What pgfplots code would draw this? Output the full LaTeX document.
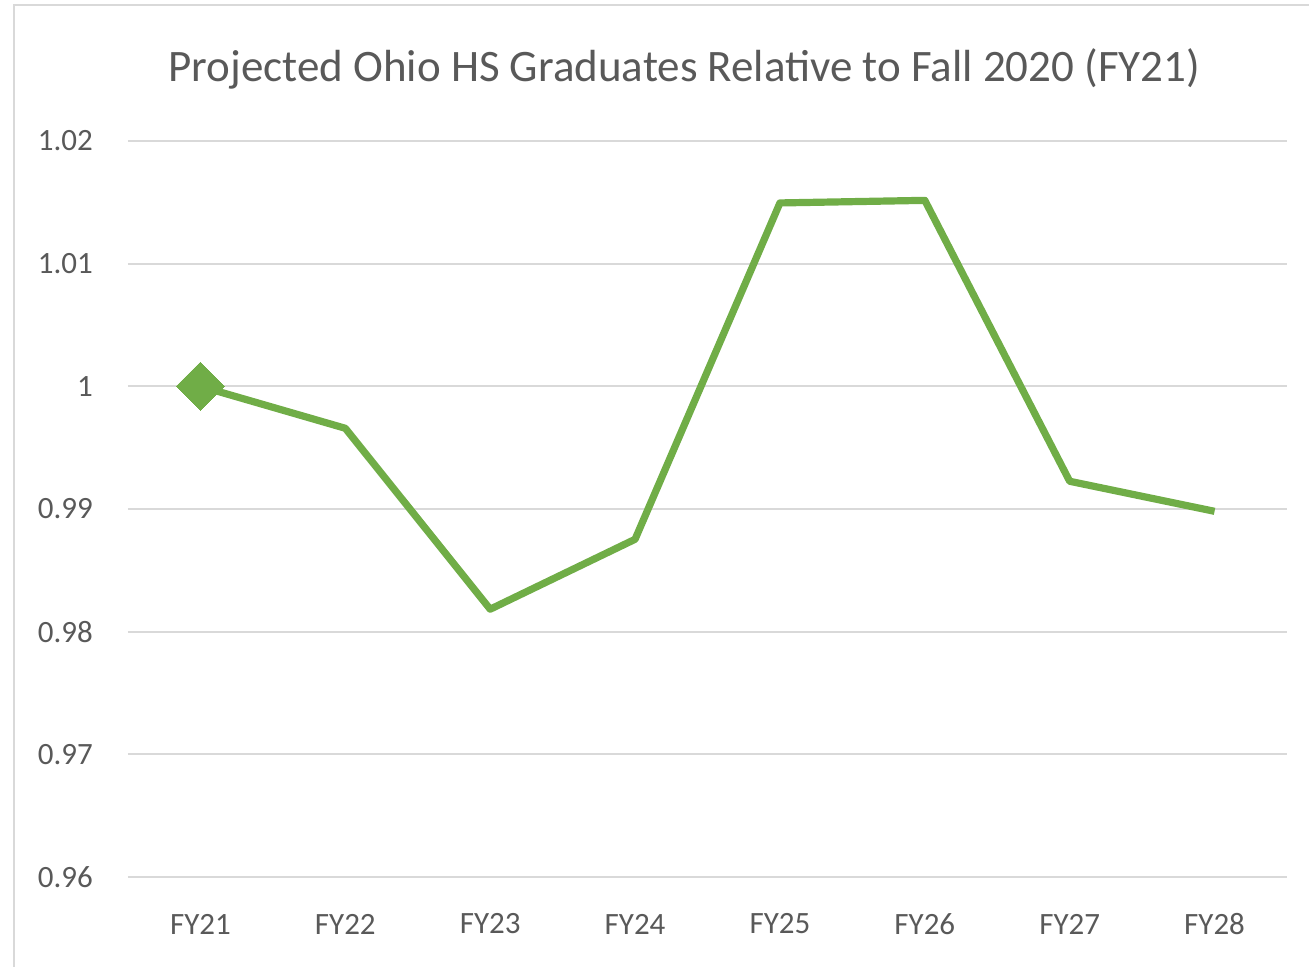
\documentclass[border=0pt]{standalone}
\usepackage{pgfplots}
\pgfplotsset{compat=1.18}
\usepackage{fontspec}
\setmainfont{Carlito}
\definecolor{txtgray}{HTML}{595959}
\definecolor{gridgray}{HTML}{D9D9D9}
\definecolor{exgreen}{HTML}{70AD47}
\begin{document}
\begin{tikzpicture}
\path[use as bounding box] (-64pt,-45pt) rectangle (590.5pt,438.5pt);
\draw[gridgray, line width=1pt] (-57pt,-46pt) -- (-57pt,436pt) -- (591pt,436pt);
\begin{axis}[
  at={(0pt,0pt)}, anchor=south west,
  scale only axis, width=579.5pt, height=368pt,
  xmin=-0.5, xmax=7.5, ymin=0.96, ymax=1.02,
  xtick={0,...,7},
  xticklabels={FY21,FY22,FY23,FY24,FY25,FY26,FY27,FY28},
  ytick={0.96,0.97,0.98,0.99,1.00,1.01,1.02},
  yticklabels={0.96,0.97,0.98,0.99,1,1.01,1.02},
  axis line style={draw=none},
  major tick length=0pt,
  ymajorgrids, grid style={gridgray, line width=1pt},
  tick label style={font=\fontsize{15.5pt}{18pt}\selectfont, text=txtgray},
  yticklabel style={anchor=east, xshift=-14pt},
  xticklabel style={anchor=center, yshift=-23.5pt},
  title={Projected Ohio HS Graduates Relative to Fall 2020 (FY21)},
  title style={font=\fontsize{22.5pt}{27pt}\selectfont, text=txtgray, anchor=center, at={(0.48,1.0)}, yshift=30pt},
  clip=false,
]
\addplot[exgreen, line width=3.6pt, line join=round, mark=square*, mark indices={1}, mark size=8.5pt, mark options={rotate=45, fill=exgreen, draw=exgreen, line width=0pt}]
coordinates {(0,1.0000) (1,0.99658) (2,0.98183) (3,0.98753) (4,1.01495) (5,1.01516) (6,0.99226) (7,0.98981)};
\end{axis}
\end{tikzpicture}
\end{document}
